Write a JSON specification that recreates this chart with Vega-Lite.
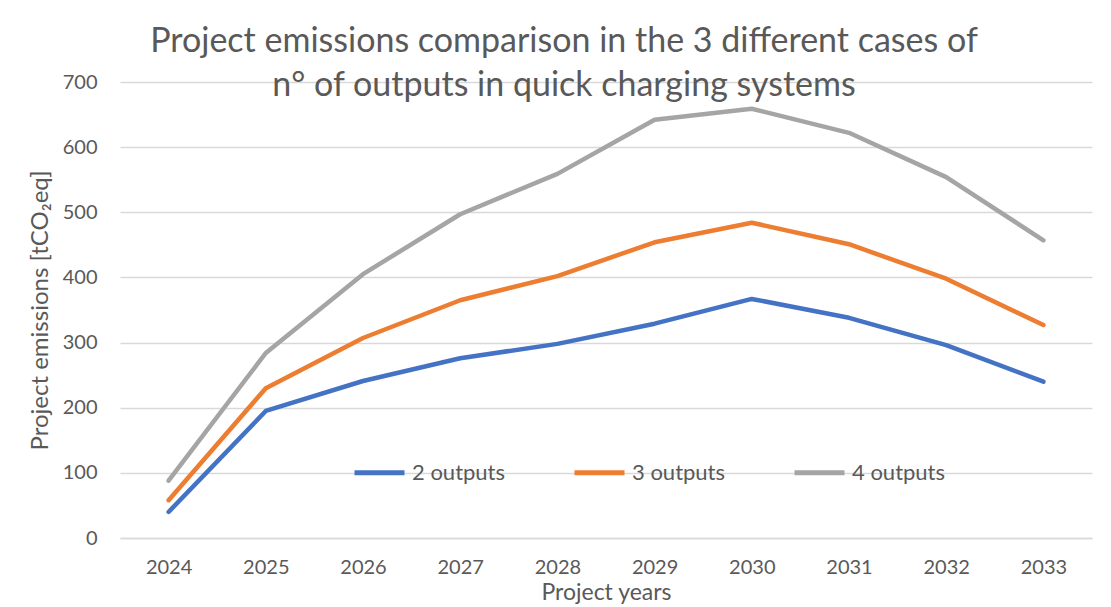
{
  "$schema": "https://vega.github.io/schema/vega-lite/v6.json",
  "width": 972,
  "height": 456,
  "autosize": {"type": "none"},
  "padding": {"left": 120, "top": 82, "right": 19, "bottom": 69},
  "background": "white",
  "config": {
    "font": "Lato",
    "view": {"stroke": null},
    "axis": {"labelColor": "#595959", "titleColor": "#595959", "labelFont": "Lato", "titleFont": "Lato", "titleFontWeight": "normal"}
  },
  "title": {
    "text": ["Project emissions comparison in the 3 different cases of", "n° of outputs in quick charging systems"],
    "font": "Lato",
    "fontSize": 34,
    "fontWeight": "normal",
    "color": "#595959",
    "anchor": "middle",
    "dx": -42,
    "offset": -31,
    "lineHeight": 44
  },
  "data": {
    "values": [
      {"year": "2024", "series": "2 outputs", "value": 40},
      {"year": "2025", "series": "2 outputs", "value": 195},
      {"year": "2026", "series": "2 outputs", "value": 241},
      {"year": "2027", "series": "2 outputs", "value": 276},
      {"year": "2028", "series": "2 outputs", "value": 298},
      {"year": "2029", "series": "2 outputs", "value": 329},
      {"year": "2030", "series": "2 outputs", "value": 367},
      {"year": "2031", "series": "2 outputs", "value": 338},
      {"year": "2032", "series": "2 outputs", "value": 296},
      {"year": "2033", "series": "2 outputs", "value": 240},
      {"year": "2024", "series": "3 outputs", "value": 58},
      {"year": "2025", "series": "3 outputs", "value": 230},
      {"year": "2026", "series": "3 outputs", "value": 307},
      {"year": "2027", "series": "3 outputs", "value": 365},
      {"year": "2028", "series": "3 outputs", "value": 402},
      {"year": "2029", "series": "3 outputs", "value": 454},
      {"year": "2030", "series": "3 outputs", "value": 484},
      {"year": "2031", "series": "3 outputs", "value": 451},
      {"year": "2032", "series": "3 outputs", "value": 398},
      {"year": "2033", "series": "3 outputs", "value": 327},
      {"year": "2024", "series": "4 outputs", "value": 88},
      {"year": "2025", "series": "4 outputs", "value": 284},
      {"year": "2026", "series": "4 outputs", "value": 405},
      {"year": "2027", "series": "4 outputs", "value": 497},
      {"year": "2028", "series": "4 outputs", "value": 559},
      {"year": "2029", "series": "4 outputs", "value": 642},
      {"year": "2030", "series": "4 outputs", "value": 659},
      {"year": "2031", "series": "4 outputs", "value": 622},
      {"year": "2032", "series": "4 outputs", "value": 554},
      {"year": "2033", "series": "4 outputs", "value": 457}
    ]
  },
  "mark": {"type": "line", "strokeWidth": 4.5, "strokeCap": "round", "strokeJoin": "round"},
  "encoding": {
    "x": {
      "field": "year",
      "type": "ordinal",
      "scale": {"type": "point", "padding": 0.5},
      "axis": {
        "title": "Project years",
        "titleFontSize": 23,
        "titlePadding": 4,
        "labelFontSize": 20,
        "labelAngle": 0,
        "labelPadding": 19,
        "ticks": false,
        "domainColor": "#d9d9d9",
        "domainWidth": 1.5
      }
    },
    "y": {
      "field": "value",
      "type": "quantitative",
      "scale": {"domain": [0, 700], "nice": false},
      "axis": {
        "title": "Project emissions [tCO₂eq]",
        "titleFontSize": 24,
        "titlePadding": 10,
        "labelFontSize": 20,
        "labelPadding": 23,
        "values": [0, 100, 200, 300, 400, 500, 600, 700],
        "ticks": false,
        "domain": false,
        "gridColor": "#d9d9d9",
        "gridWidth": 1.5
      }
    },
    "color": {
      "field": "series",
      "type": "nominal",
      "scale": {"domain": ["2 outputs", "3 outputs", "4 outputs"], "range": ["#4472C4", "#ED7D31", "#A5A5A5"]},
      "legend": {
        "title": null,
        "orient": "none",
        "direction": "horizontal",
        "legendX": 232,
        "legendY": 363,
        "symbolType": "stroke",
        "symbolSize": 2500,
        "symbolStrokeWidth": 5,
        "labelFontSize": 22,
        "labelFont": "Lato",
        "labelColor": "#595959",
        "labelOffset": 5,
        "columnPadding": 58
      }
    }
  }
}
